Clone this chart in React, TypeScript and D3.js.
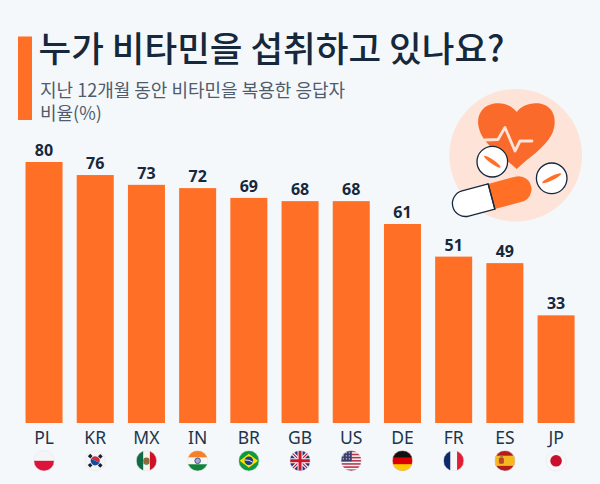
import React from "react";
import * as d3 from "d3";

const codes = ["PL", "KR", "MX", "IN", "BR", "GB", "US", "DE", "FR", "ES", "JP"];
const values = [80, 76, 73, 72, 69, 68, 68, 61, 51, 49, 33];
const titleText = "누가 비타민을 섭취하고 있나요?";
const subtitleLines = ["지난 12개월 동안 비타민을 복용한 응답자", "비율(%)"];

const W = 600, H = 484;
const ORANGE = "#ff6f26", INK = "#16283c";
const FONT = "'Noto Sans CJK KR','Noto Sans',sans-serif";
const LAT = "'Noto Sans','Open Sans',sans-serif";

const x = d3.scaleBand().domain(codes).range([25.5 - 7.1, 574.6 + 7.1]).paddingInner(0.277).paddingOuter(0.139);
const y = d3.scaleLinear().domain([0, 80]).range([423, 162]);

function Flag({ code, r }: { code: string; r: number }) {
  const s = r * 2;
  const box = { x: -r, y: -r, width: s, height: s };
  let c: React.ReactNode = null;
  if (code === "PL") c = <><rect {...box} fill="#f4f5f7" /><rect x={-r} y={0} width={s} height={r} fill="#dc143c" /></>;
  if (code === "KR") c = <><rect {...box} fill="#f5f5f7" />
    <path d="M-4.6,0A4.6,4.6 0 0 1 4.6,0Z" fill="#cd2e3a" transform="rotate(25)" />
    <path d="M-4.6,0A4.6,4.6 0 0 0 4.6,0Z" fill="#0f4fa8" transform="rotate(25)" />
    {[-48, 48, 132, 228].map(a => <rect key={a} x={-1.6} y={-8.4} width={3.4} height={3.2} fill="#16202c" transform={`rotate(${a})`} />)}</>;
  if (code === "MX") c = <><rect {...box} fill="#f4f4f0" /><rect x={-r} y={-r} width={r * 0.68} height={s} fill="#0f6b47" /><rect x={r * 0.34} y={-r} width={r} height={s} fill="#ce1126" /><circle r={3.2} fill="#8c6a3a" /><path d="M-3,2.5Q0,5 3,2.5" stroke="#3f7d4e" fill="none" /></>;
  if (code === "IN") c = <><rect {...box} fill="#f6f6f4" /><rect x={-r} y={-r} width={s} height={r * 0.66} fill="#f58025" /><rect x={-r} y={r * 0.34} width={s} height={r} fill="#12833b" /><circle r={2.8} fill="#a9a9cc" stroke="#1b2a80" strokeWidth={0.7} /></>;
  if (code === "BR") c = <><rect {...box} fill="#0b9a3f" /><path d="M-9.2,0L0,-7L9.2,0L0,7Z" fill="#fedf00" /><circle r={4.3} fill="#1c3d86" /><path d="M-4,-0.8Q0,-1.2 4,1.4" stroke="#fff" strokeWidth={0.9} fill="none" /></>;
  if (code === "GB") c = <><rect {...box} fill="#24367c" />
    <path d="M-10,-10L10,10M10,-10L-10,10" stroke="#f4f4f4" strokeWidth={3.4} />
    <path d="M-10,-10L10,10M10,-10L-10,10" stroke="#cf142b" strokeWidth={1.2} />
    <path d="M0,-10V10M-10,0H10" stroke="#f4f4f4" strokeWidth={5} />
    <path d="M0,-10V10M-10,0H10" stroke="#cf142b" strokeWidth={3} /></>;
  if (code === "US") c = <><rect {...box} fill="#f4f4f4" />
    {d3.range(7).map(i => <rect key={i} x={-r} y={-r + i * (s / 6.5)} width={s} height={s / 13} fill="#b5354c" />)}
    <rect x={-r} y={-r} width={r * 1.05} height={r * 1.05} fill="#3c3b6e" />
    {d3.range(3).flatMap(i => d3.range(3).map(j => <circle key={`${i}${j}`} cx={-8 + j * 3} cy={-8 + i * 3} r={0.6} fill="#fff" />))}</>;
  if (code === "DE") c = <><rect {...box} fill="#dd0000" /><rect x={-r} y={-r} width={s} height={s / 3} fill="#111" /><rect x={-r} y={r / 3} width={s} height={s / 3} fill="#ffcc00" /></>;
  if (code === "FR") c = <><rect {...box} fill="#f6f6f8" /><rect x={-r} y={-r} width={s / 3} height={s} fill="#0f2a6b" /><rect x={r / 3} y={-r} width={s / 3} height={s} fill="#df1f35" /></>;
  if (code === "ES") c = <><rect {...box} fill="#b51d1a" /><rect x={-r} y={-r / 2} width={s} height={r} fill="#f5b91f" /><rect x={-6} y={-3.4} width={5} height={6.4} rx={1.5} fill="#b8452b" /><rect x={-4.6} y={-5} width={2.6} height={1.6} fill="#a6852a" /></>;
  if (code === "JP") c = <><rect {...box} fill="#f7f7f9" /><circle r={5.8} fill="#c8102e" /></>;
  return <>
    <clipPath id={`cl-${code}`}><circle r={r} /></clipPath>
    <g clipPath={`url(#cl-${code})`}>{c}</g>
    <circle r={r} fill="none" stroke="#dfe3e8" strokeWidth={0.5} />
  </>;
}

function Icon() {
  return <g strokeLinejoin="round" strokeLinecap="round">
    <circle cx={515.7} cy={155.3} r={66.3} fill="#fde3d8" />
    <path d="M516.7,169 C505,158 488,148 481,134 C474,119 480,106 494,103.5 C504,102 512,106 516.7,112 C521,106 530,102 540,103.5 C554,106 558,120 552,134 C545,148 528,158 516.7,169Z" fill="#f96a2b" />
    <path d="M485,140 L498,139.5 L505,127.5 L515,151 L520,141 L532,141" fill="none" stroke="#fde3d8" strokeWidth={2.8} />
    <g transform="translate(492.3,161.7)">
      <circle r={15.3} fill="#fff" stroke={INK} strokeWidth={1.3} />
      <ellipse rx={10} ry={2} fill={ORANGE} transform="rotate(35)" />
    </g>
    <g transform="translate(551.7,178.3)">
      <circle r={15.3} fill="#fff" stroke={INK} strokeWidth={1.3} />
      <ellipse rx={10.5} ry={2} fill={ORANGE} transform="rotate(-26)" />
    </g>
    <g transform="translate(491.5,196.5) rotate(-15)">
      <path d="M0,-13 H28 A13,13 0 0 1 28,13 H0Z" fill={ORANGE} />
      <path d="M0,-13 H-27 A13,13 0 0 0 -27,13 H0Z" fill="#fff" stroke={INK} strokeWidth={1.3} />
      <path d="M0,-13V13" stroke={INK} strokeWidth={1.3} />
    </g>
  </g>;
}

export default function App() {
  return (
    <svg width={W} height={H} viewBox={`0 0 ${W} ${H}`} style={{ position: "absolute", left: 0, top: 0, display: "block" }}>
      <rect width={W} height={H} fill="#f5f8fb" />
      <rect x={18} y={36.5} width={14} height={83.5} fill={ORANGE} />
      <text x={38.5} y={62} fontFamily={FONT} fontSize={35.5} fontWeight={500} fill={INK}>{titleText}</text>
      {subtitleLines.map((t, i) => (
        <text key={t} x={40} y={96.5 + i * 23.5} fontFamily={FONT} fontSize={18} fill="#4f5c6b">{t}</text>
      ))}
      <Icon />
      {codes.map((c, i) => {
        const bx = x(c)!, cx = bx + x.bandwidth() / 2;
        return <g key={c}>
          <rect x={bx} y={y(values[i])} width={x.bandwidth()} height={y(0) - y(values[i])} fill={ORANGE} />
          <text x={cx} y={y(values[i]) - 6} textAnchor="middle" fontFamily={LAT} fontWeight={700} fontSize={16} fill={INK}>{values[i]}</text>
          <text x={cx} y={443.5} textAnchor="middle" fontFamily={LAT} fontSize={17.5} fill="#22344a">{c}</text>
          <g transform={`translate(${cx},460.8)`}><Flag code={c} r={10.2} /></g>
        </g>;
      })}
    </svg>
  );
}
